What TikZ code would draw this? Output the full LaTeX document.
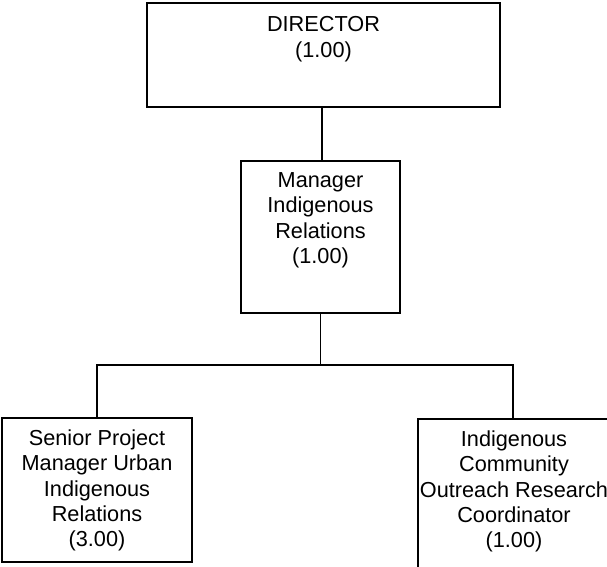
\documentclass[tikz,border=0pt]{standalone}
\usepackage{fontspec}
\setmainfont{Liberation Sans}
\usetikzlibrary{positioning}

\begin{document}
\begin{tikzpicture}[
  x=1pt, y=-1pt,
  box/.style={rectangle, draw, line width=1.2pt, inner sep=0pt},
  txt/.style={anchor=north, align=center, inner sep=0pt, font=\fontsize{21.7}{25.4}\selectfont},
  link/.style={line width=1.2pt}
]
\useasboundingbox (0,0) rectangle (607,566);
\node[box, minimum width=353pt, minimum height=104pt] (director) at (323.5,55) {};
\node[box, minimum width=159pt, minimum height=152pt] (manager) at (320.5,237) {};
\node[box, minimum width=190pt, minimum height=144pt] (senior) at (97,490) {};
\node[box, minimum width=192pt, minimum height=152pt] (outreach) at (514,495) {};

\node[txt, below=14pt of director.north] (directortxt) {DIRECTOR\\(1.00)};
\node[txt, below=12pt of manager.north] (managertxt) {Manager\\Indigenous\\Relations\\(1.00)};
\node[txt, below=12pt of senior.north] (seniortxt) {Senior Project\\Manager Urban\\Indigenous\\Relations\\(3.00)};
\node[txt, below=12pt of outreach.north] (outreachtxt) {Indigenous\\Community\\Outreach Research\\Coordinator\\(1.00)};

\coordinate (bus) at (320.5,365);
\draw[link] ([xshift=-1.5pt]director.south) -- ([xshift=-1.5pt]director.south |- manager.north);
\draw[link] (manager) -- (bus);
\draw[link] (bus) -| (senior.north);
\draw[link] (bus) -| ([xshift=-1pt]outreach.north);
\end{tikzpicture}
\end{document}
